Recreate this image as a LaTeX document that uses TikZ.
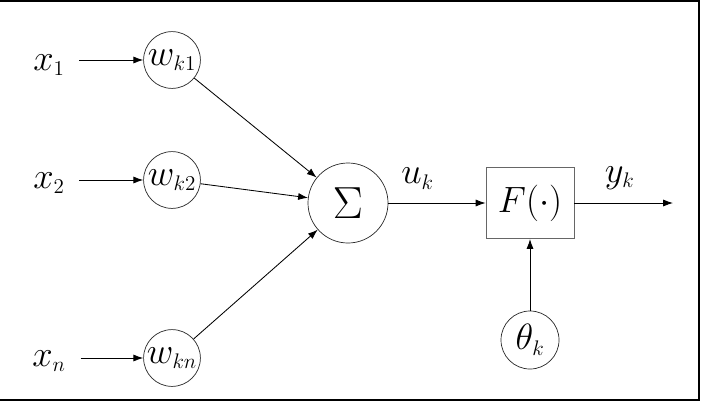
\RequirePackage{fix-cm}
\documentclass[tikz,border=0pt]{standalone}
\usepackage{tikz}
\usetikzlibrary{arrows.meta,positioning,calc}
\DeclareMathSizes{26}{26}{15}{11}

\tikzset{
  peso/.style={circle, draw=black!85, line width=0.5pt, minimum size=1.42cm, inner sep=0pt},
  freccia/.style={->, line width=0.6pt},
}

\begin{document}
\begin{tikzpicture}[x=0.025cm, y=-0.025cm, >={Latex[length=7pt,width=5pt]}, font=\fontsize{26}{30}\selectfont]
    \useasboundingbox (0,0) rectangle (701,402);
    \draw[line width=1.8pt] (0,1) -- (699,1) -- (699,400) -- (0,400);

    % Ingressi e pesi
    \node (x1) at (49,65) {$x_1$};
    \node (x2) at (49,183) {$x_2$};
    \node (xn) at (49,361) {$x_n$};
    \node[peso] (w1) at (172,60) {$w_{k1}$};
    \node[peso] (w2) at (172,180) {$w_{k2}$};
    \node[peso] (wn) at (172,358) {$w_{kn}$};
    \draw[freccia, shorten <=7pt] (x1.east |- w1) -- (w1);
    \draw[freccia, shorten <=7pt] (x2.east |- w2) -- (w2);
    \draw[freccia, shorten <=7pt] (xn.east |- wn) -- (wn);

    % Sommatore
    \node[peso, minimum size=2cm] (sum) at (348,203) {\fontsize{32}{36}\selectfont$\Sigma$};
    \foreach \w in {w1,w2,wn}
        \draw[freccia] (\w) -- (sum);

    % Funzione di attivazione
    \node[draw=black!60, line width=0.6pt, minimum width=2.2cm, minimum height=1.78cm] (F) at (530,203) {$F(\cdot)$};
    \node[peso, minimum size=1.45cm] (theta) at (530,340) {$\theta_k$};
    \coordinate (out) at (673,203);
    \draw[freccia] (sum) -- node[pos=0.3, above=6pt] {$u_k$} (F);
    \draw[freccia] (F) -- node[pos=0.46, above=6pt] {$y_k$} (out);
    \draw[freccia] (theta) -- (F);
\end{tikzpicture}
\end{document}
